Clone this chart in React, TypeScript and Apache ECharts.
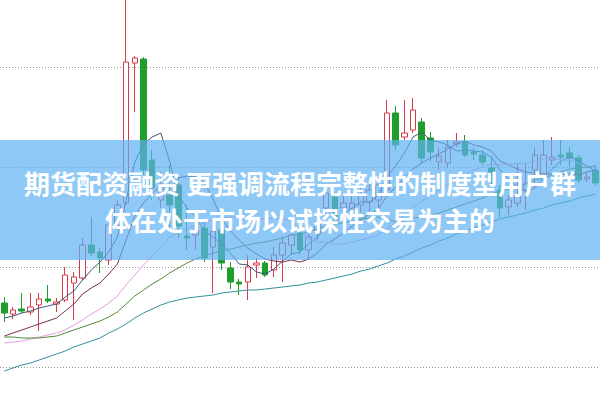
import React, { useEffect, useRef } from "react";
import * as echarts from "echarts";

const days: string[] = Array.from({ length: 69 }, (_, i) => `D${i + 1}`);

// [open, close, low, high]
const candles: number[][] = [
  [164, 154, 145, 170], [153, 157, 148, 160], [158, 156, 154, 174], [155, 160, 152, 174],
  [162, 168, 136, 174], [168, 166, 164, 182], [163, 165, 155, 169], [167, 192, 165, 200],
  [184, 190, 147, 195], [189, 222, 187, 229], [222, 214, 211, 250], [215, 209, 194, 219],
  [207, 242, 202, 245], [242, 262, 237, 267], [264, 405, 261, 477], [404, 409, 355, 411],
  [408, 297, 292, 410], [307, 279, 267, 317], [267, 282, 259, 295], [272, 262, 235, 302],
  [282, 241, 229, 289], [231, 229, 217, 262], [232, 237, 217, 254], [239, 209, 205, 247],
  [220, 236, 174, 249], [237, 204, 197, 242], [199, 185, 178, 205], [185, 183, 172, 188],
  [185, 200, 167, 212], [202, 204, 189, 209], [204, 192, 190, 206], [197, 212, 190, 220],
  [212, 224, 185, 231], [222, 232, 212, 242], [234, 217, 212, 239], [217, 230, 207, 240],
  [235, 245, 227, 252], [259, 274, 252, 279], [270, 250, 245, 275], [259, 264, 247, 272],
  [257, 264, 252, 274], [262, 272, 255, 280], [265, 277, 254, 284], [267, 282, 257, 290],
  [277, 354, 272, 367], [354, 322, 317, 361], [330, 334, 327, 367], [337, 357, 334, 369],
  [345, 309, 304, 349], [329, 315, 305, 335], [305, 311, 297, 319], [304, 320, 299, 327],
  [323, 325, 320, 334], [325, 312, 310, 332], [315, 313, 307, 319], [312, 305, 302, 317],
  [299, 295, 280, 310], [277, 259, 249, 282], [260, 267, 252, 272], [264, 272, 260, 304],
  [277, 284, 257, 304], [297, 312, 280, 319], [290, 312, 287, 327], [307, 310, 302, 330],
  [312, 310, 302, 327], [314, 309, 300, 320], [309, 287, 284, 312], [288, 290, 285, 294],
  [297, 284, 281, 302],
];

const ma5: number[] = [
  149, 151, 154, 156, 159, 161, 163, 170, 176, 187, 197, 205, 215, 230, 266, 305, 323, 330,
  334, 306, 272, 259, 250, 236, 230, 223, 214, 203, 202, 195, 193, 198, 206, 213, 215, 223,
  230, 240, 243, 253, 259, 265, 265, 272, 290, 301, 314, 330, 335, 327, 325, 322, 316, 317,
  316, 315, 310, 297, 288, 280, 275, 279, 289, 298, 306, 311, 306, 301, 296,
];
const ma10: number[] = [
  131, 134, 137, 140, 143, 146, 149, 156, 163, 173, 179, 184, 193, 203, 227, 251, 264, 273,
  282, 286, 289, 291, 290, 285, 268, 248, 236, 227, 219, 213, 208, 206, 205, 207, 205, 208,
  214, 223, 228, 234, 241, 247, 253, 258, 271, 280, 289, 298, 304, 309, 313, 318, 323, 326,
  322, 320, 316, 306, 302, 298, 295, 294, 293, 293, 293, 293, 292, 295, 297,
];
const ma20: number[] = [
  124, 125, 126, 128, 130, 132, 134, 137, 142, 147, 153, 158, 164, 171, 182, 192, 202, 211,
  220, 230, 234, 238, 242, 244, 247, 249, 250, 250, 250, 249, 248, 249, 248, 246, 237, 228,
  225, 225, 223, 223, 225, 227, 229, 232, 238, 244, 252, 260, 266, 271, 277, 283, 288, 292,
  297, 300, 303, 302, 303, 303, 304, 306, 308, 309, 307, 307, 304, 301, 300,
];
const ma30: number[] = [
  130, 130, 129, 129, 129, 130, 131, 134, 137, 140, 143, 146, 150, 155, 163, 171, 177, 183,
  188, 194, 199, 204, 208, 211, 214, 216, 218, 220, 222, 224, 225, 227, 229, 232, 233, 235,
  238, 241, 243, 244, 246, 248, 249, 250, 248, 245, 246, 249, 250, 252, 254, 257, 260, 263,
  266, 269, 273, 276, 278, 280, 283, 287, 289, 292, 295, 298, 299, 300, 301,
];
const ma60: number[] = [
  96, 99, 102, 104, 107, 110, 113, 116, 120, 123, 126, 129, 134, 138, 143, 149, 154, 158,
  162, 165, 167, 169, 170, 171, 172, 174, 175, 176, 177, 177, 178, 179, 180, 181, 182, 184,
  185, 187, 189, 191, 193, 196, 198, 201, 204, 208, 211, 215, 219, 222, 226, 229, 233, 236,
  239, 242, 245, 248, 250, 252, 254, 257, 259, 262, 264, 266, 269, 271, 273,
];

const bannerLines: string[] = [
  "期货配资融资 更强调流程完整性的制度型用户群",
  "体在处于市场以试探性交易为主的",
];

const maSeries = [
  { name: "MA5", data: ma5, color: "#3b5878" },
  { name: "MA10", data: ma10, color: "#7a2e52" },
  { name: "MA20", data: ma20, color: "#e59be2" },
  { name: "MA30", data: ma30, color: "#4f8a3a" },
  { name: "MA60", data: ma60, color: "#2f8f9d" },
];

// the chart div is shifted up by this many pixels so split lines fall on the page grid
const SHIFT = 33;

export default function App() {
  const ref = useRef<HTMLDivElement>(null);
  useEffect(() => {
    if (!ref.current) return;
    const chart = echarts.init(ref.current, null, { renderer: "svg" });
    chart.setOption({
      animation: false,
      backgroundColor: "#ffffff",
      grid: { left: 0, right: 0, top: 0, bottom: 0 },
      xAxis: {
        type: "category",
        data: days,
        boundaryGap: true,
        show: false,
      },
      yAxis: {
        type: "value",
        min: 0,
        max: 500,
        interval: 100,
        axisLine: { show: false },
        axisTick: { show: false },
        axisLabel: { show: false },
        splitLine: {
          show: true,
          lineStyle: { type: [1, 2], color: "#9a9a9a", width: 1 },
        },
      },
      series: [
        {
          type: "candlestick",
          data: candles,
          barWidth: 6,
          itemStyle: {
            color: "#ffffff",
            color0: "#1f9e2c",
            borderColor: "#d63b47",
            borderColor0: "#1f9e2c",
            borderWidth: 1,
          },
        },
        ...maSeries.map((m) => ({
          type: "line",
          name: m.name,
          data: m.data,
          showSymbol: false,
          symbol: "none",
          smooth: false,
          lineStyle: { color: m.color, width: 1 },
          itemStyle: { color: m.color },
          z: 3,
        })),
      ],
      graphic: [
        {
          type: "rect",
          z: 100,
          shape: { x: 0, y: 140 + SHIFT, width: 600, height: 120 },
          style: { fill: "rgba(94,176,242,0.7)" },
        },
        ...bannerLines.map((t, i) => ({
          type: "text",
          z: 101,
          x: 300,
          y: 182 + SHIFT + i * 37,
          style: {
            text: t,
            fill: "#ffffff",
            fontSize: 26,
            fontWeight: "bold",
            fontFamily: '"Noto Sans CJK SC", "Noto Sans", sans-serif',
            align: "center",
            verticalAlign: "middle",
            shadowColor: "rgba(0,0,0,0.25)",
            shadowBlur: 2,
          },
        })),
      ],
    });
    return () => chart.dispose();
  }, []);
  return (
    <div
      ref={ref}
      style={{
        position: "fixed",
        left: 0,
        top: -SHIFT,
        width: 600,
        height: 500,
      }}
    />
  );
}
